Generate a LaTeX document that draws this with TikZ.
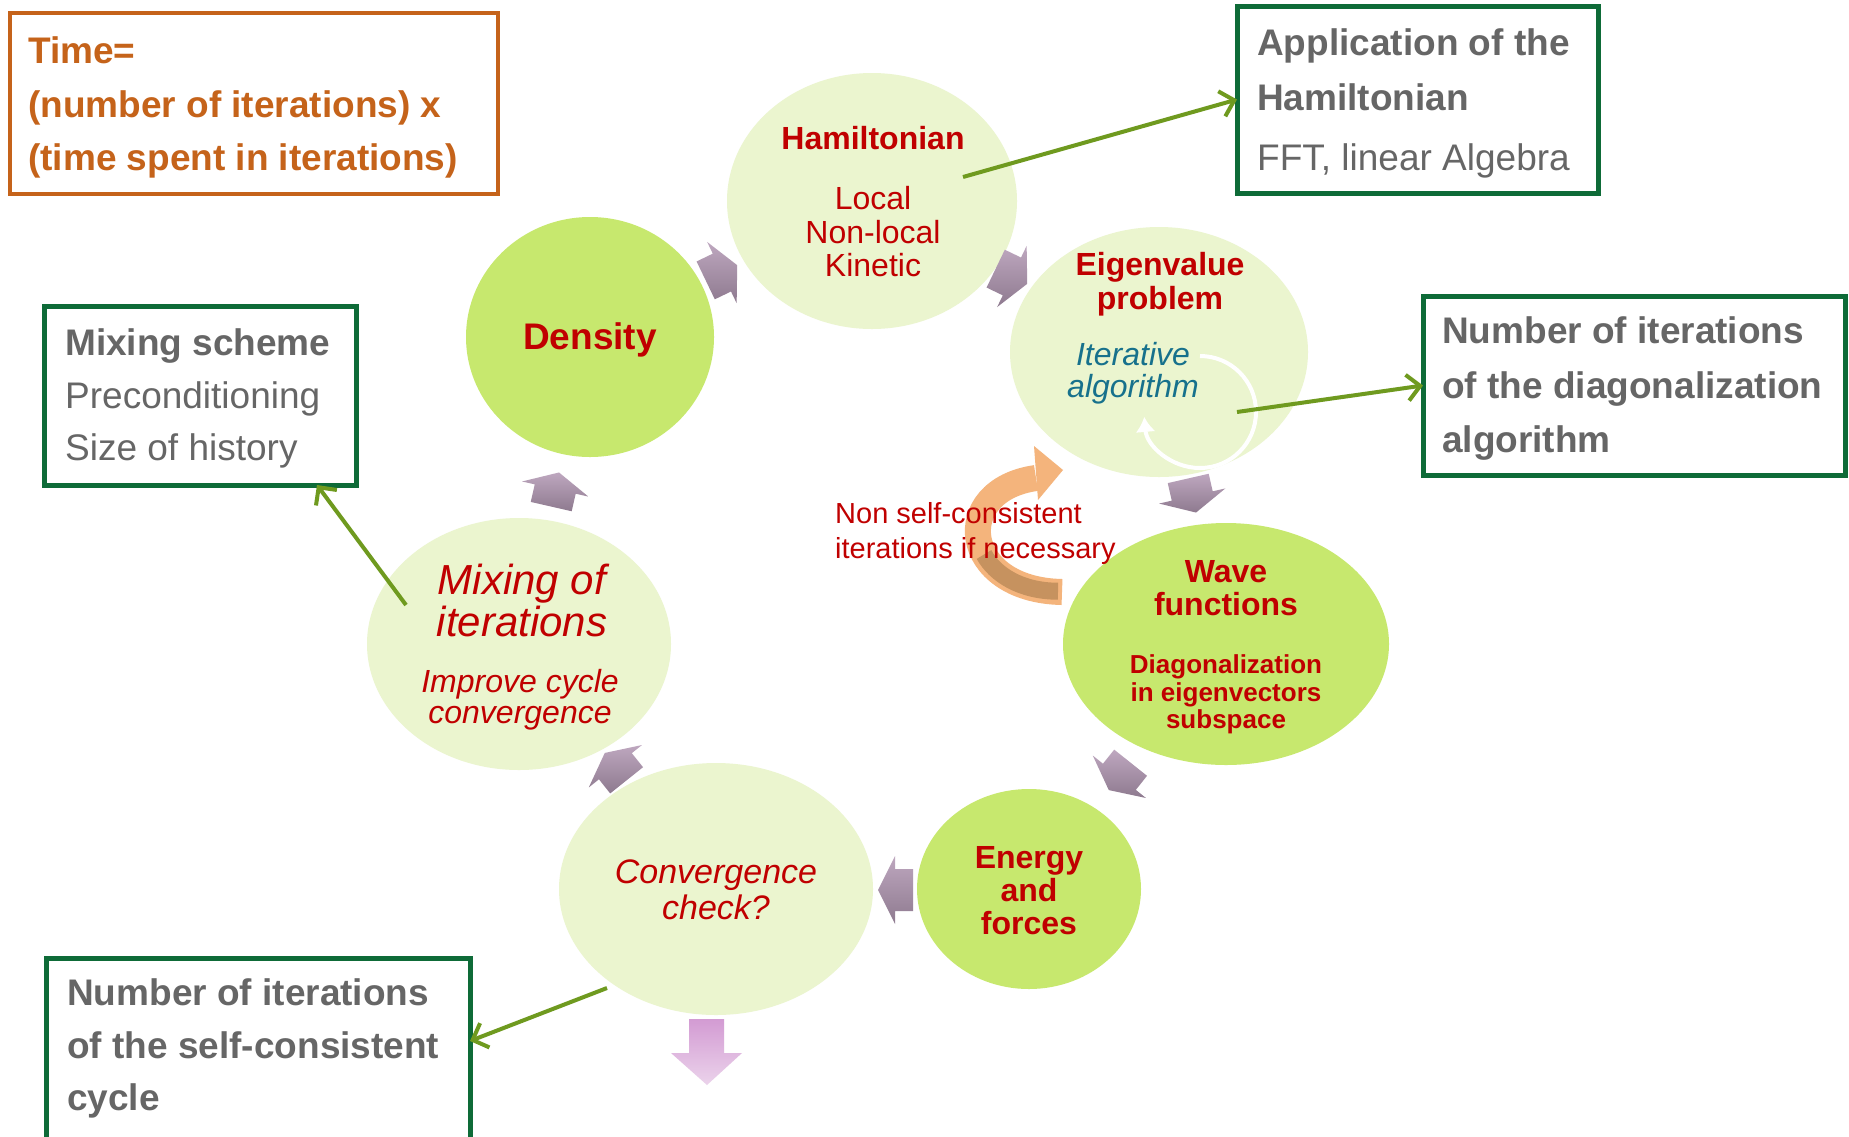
\documentclass[tikz,border=0pt]{standalone}
\usepackage{fontspec}
\setmainfont{Liberation Sans}
\usetikzlibrary{shapes.geometric,arrows.meta,calc}
\definecolor{lightg}{HTML}{EBF5CF}
\definecolor{darkg}{HTML}{C7E86E}
\definecolor{redt}{HTML}{C00000}
\definecolor{tealt}{HTML}{17718C}
\definecolor{grayt}{HTML}{666666}
\definecolor{orgt}{HTML}{C5631A}
\definecolor{boxg}{HTML}{0E6B38}
\definecolor{olivec}{HTML}{6F9A1F}
\definecolor{purtop}{HTML}{BEA7BF}
\definecolor{purbot}{HTML}{8E7A8F}
\definecolor{pinktop}{HTML}{D39BD3}
\definecolor{pinkbot}{HTML}{EBD3EB}
\definecolor{orarr}{HTML}{F4B47C}
\definecolor{brarr}{HTML}{C6925F}
\newcommand\cycarrow[3]{%
 \coordinate (#1) at (#2);
 \shade[purarr] ($(#1)+(#3-90:17)+(#3:21)$) -- ($(#1)+(#3+90:1)+(#3:21)$) -- ($(#1)+(#3+90:1)+(#3:34)$) -- ($(#1)+(#3+90:18)$) -- ($(#1)+(#3+90:1)+(#3+180:34)$) -- ($(#1)+(#3+90:1)+(#3+180:21)$) -- ($(#1)+(#3-90:17)+(#3+180:21)$) -- cycle;}
\begin{document}
\begin{tikzpicture}[x=1pt,y=-1pt,
 lightc/.style={ellipse, fill=lightg, inner sep=0pt, outer sep=0pt},
 darkc/.style={ellipse, fill=darkg, inner sep=0pt, outer sep=0pt},
 ttl/.style={text=redt, font=\bfseries\fontsize{32}{38}\selectfont, anchor=base, inner sep=0pt},
 ttlbig/.style={text=redt, font=\bfseries\fontsize{37}{44}\selectfont, anchor=base, inner sep=0pt},
 ttlsmall/.style={text=redt, font=\bfseries\fontsize{26}{30}\selectfont, anchor=base, inner sep=0pt},
 regr/.style={text=redt, font=\fontsize{32}{38}\selectfont, anchor=base, inner sep=0pt},
 itr/.style={text=redt, font=\itshape\fontsize{32}{38}\selectfont, anchor=base, inner sep=0pt},
 itrmid/.style={text=redt, font=\itshape\fontsize{34}{40}\selectfont, anchor=base, inner sep=0pt},
 itrbig/.style={text=redt, font=\itshape\fontsize{42}{50}\selectfont, anchor=base, inner sep=0pt},
 itteal/.style={text=tealt, font=\itshape\fontsize{32}{38}\selectfont, anchor=base, inner sep=0pt},
 note/.style={text=redt, font=\fontsize{29}{34}\selectfont, anchor=base west, inner sep=0pt},
 gbox/.style={draw=boxg, line width=5pt, fill=white, inner sep=0pt, outer sep=0pt, anchor=north west},
 obox/.style={draw=orgt, line width=4.5pt, fill=white, inner sep=0pt, outer sep=0pt, anchor=north west},
 gb/.style={text=grayt, font=\bfseries\fontsize{37}{44}\selectfont, anchor=base west, inner sep=0pt},
 gr/.style={text=grayt, font=\fontsize{37}{44}\selectfont, anchor=base west, inner sep=0pt},
 ob/.style={text=orgt, font=\bfseries\fontsize{37}{44}\selectfont, anchor=base west, inner sep=0pt},
 conn/.style={draw=olivec, line width=4pt, -{Straight Barb[length=13pt,width=26pt]}},
 purarr/.style={top color=purtop, bottom color=purbot},
]
\useasboundingbox (0,0) rectangle (1849,1136);
\clip (0,0) rectangle (1849,1136);
\fill[white] (0,0) rectangle (1849,1136);

% cycle ellipses
\node[lightc, minimum width=290pt, minimum height=256pt] (ham) at (872,201) {};
\node[darkc, minimum width=248pt, minimum height=240pt] (dens) at (590,337) {};
\node[lightc, minimum width=298pt, minimum height=250pt] (eig) at (1159,352) {};
\node[darkc, minimum width=326pt, minimum height=242pt] (wave) at (1226,644) {};
\node[darkc, minimum width=224pt, minimum height=200pt] (energy) at (1029,889) {};
\node[lightc, minimum width=314pt, minimum height=252pt] (conv) at (716,889) {};
\node[lightc, minimum width=304pt, minimum height=252pt] (mix) at (519,644) {};

% cycle arrows
\cycarrow{a1}{721,273}{244.29}
\cycarrow{a2}{1011,276}{-64.29}
\cycarrow{a3}{1192,495}{-12.86}
\cycarrow{a4}{1120,776}{38.57}
\cycarrow{a5}{896,890}{90}
\cycarrow{a6}{616,767}{141.43}
\cycarrow{a7}{555,490}{192.86}

% exit arrow
\shade[top color=pinktop, bottom color=pinkbot] (689,1019) -- (724,1019) -- (724,1053) -- (742,1053) -- (707,1085) -- (671,1053) -- (689,1053) -- cycle;

% orange curved arrow
\coordinate (oa0) at (1062,592);
\coordinate (oa1) at (1036,478);
\draw[line width=26pt, orarr] (oa0) .. controls (960,590) and (950,490) .. (oa1);
\fill[orarr] (1034,446) -- (1063,470) -- (1038,500) -- cycle;
\draw[line width=17pt, brarr] (1058,591.2) .. controls (1021,591.2) and (995,574.7) .. (984,554.5);

% white circular arrow
\draw[line width=4pt, white, -{Latex[length=15pt,width=20pt]}] (1200,356) arc[start angle=-90, end angle=175, radius=56];

% texts in ellipses
\node[ttl] (hamt) at (873,149) {Hamiltonian};
\node[regr] (haml1) at (873,209) {Local};
\node[regr] (haml2) at (873,243) {Non-local};
\node[regr] (haml3) at (873,276) {Kinetic};
\node[ttlbig] (denst) at (590,349) {Density};
\node[ttl] (eigt1) at (1160,275) {Eigenvalue};
\node[ttl] (eigt2) at (1160,309) {problem};
\node[itteal] (eigi1) at (1133,365) {Iterative};
\node[itteal] (eigi2) at (1133,397) {algorithm};
\node[ttl] (wavet1) at (1226,582) {Wave};
\node[ttl] (wavet2) at (1226,615) {functions};
\node[ttlsmall] (waves1) at (1226,673) {Diagonalization};
\node[ttlsmall] (waves2) at (1226,701) {in eigenvectors};
\node[ttlsmall] (waves3) at (1226,728) {subspace};
\node[ttl] (ent1) at (1029,868) {Energy};
\node[ttl] (ent2) at (1029,901) {and};
\node[ttl] (ent3) at (1029,934) {forces};
\node[itrmid] (convt1) at (716,883) {Convergence};
\node[itrmid] (convt2) at (716,919) {check?};
\node[itrbig] (mixt1) at (522,594) {Mixing of};
\node[itrbig] (mixt2) at (522,636) {iterations};
\node[itr] (mixs1) at (520,692) {Improve cycle};
\node[itr] (mixs2) at (520,723) {convergence};
\node[note] (nsc1) at (835,523) {Non self-consistent};
\node[note] (nsc2) at (835,558) {iterations if necessary};

% boxes
\node[obox, minimum width=488pt, minimum height=181pt] (timebox) at (10,13) {};
\node[ob] (time1) at (28,63) {Time=};
\node[ob] (time2) at (28,117) {(number of iterations) x};
\node[ob] (time3) at (28,170) {(time spent in iterations)};

\node[gbox, minimum width=361pt, minimum height=187pt] (appbox) at (1237,6) {};
\node[gb] (app1) at (1257,55) {Application of the};
\node[gb] (app2) at (1257,110) {Hamiltonian};
\node[gr] (app3) at (1257,170) {FFT, linear Algebra};

\node[gbox, minimum width=422pt, minimum height=179pt] (diagbox) at (1423,296) {};
\node[gb] (diag1) at (1442,343) {Number of iterations};
\node[gb] (diag2) at (1442,398) {of the diagonalization};
\node[gb] (diag3) at (1442,452) {algorithm};

\node[gbox, minimum width=312pt, minimum height=179pt] (mixbox) at (44,306) {};
\node[gb] (mb1) at (65,355) {Mixing scheme};
\node[gr] (mb2) at (65,408) {Preconditioning};
\node[gr] (mb3) at (65,460) {Size of history};

\node[gbox, minimum width=424pt, minimum height=210pt] (convbox) at (46,958) {};
\node[gb] (cb1) at (67,1005) {Number of iterations};
\node[gb] (cb2) at (67,1058) {of the self-consistent};
\node[gb] (cb3) at (67,1110) {cycle};

% connectors
\coordinate (hs) at (963,177);
\coordinate (es) at (1237,412);
\coordinate (ms) at (406,605);
\coordinate (cs) at (607,988);
\coordinate (mt) at ($(mixbox.south west)!0.875!(mixbox.south east)$);
\coordinate (ct) at ($(convbox.north east)+(0,83)$);
\draw[conn] (hs) -- (appbox.west);
\draw[conn] (es) -- (diagbox.west);
\draw[conn] (ms) -- (mt);
\draw[conn] (cs) -- (ct);
\end{tikzpicture}
\end{document}
